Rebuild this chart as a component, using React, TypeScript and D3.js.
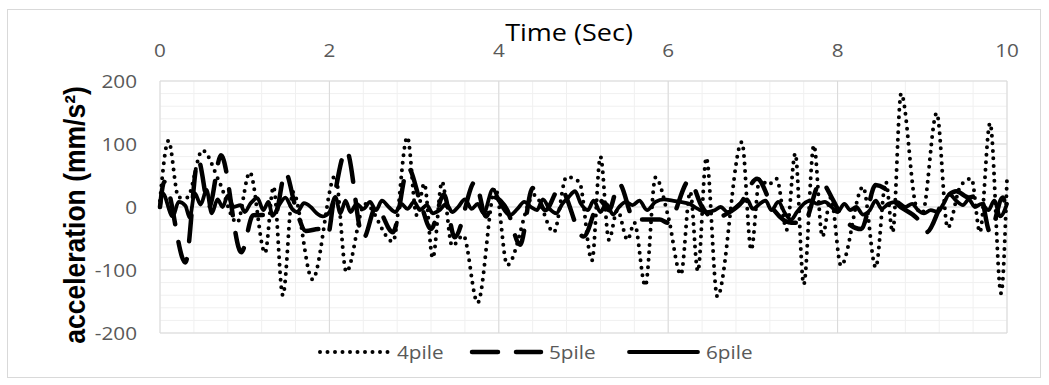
import React from "react";
import * as d3 from "d3";

// time (s) / acceleration (mm/s²)
const t4 = [0, 0.1, 0.22, 0.32, 0.5, 0.7, 0.91, 1.06, 1.24, 1.34, 1.45, 1.57, 1.8, 2.07, 2.2, 2.42, 2.75, 2.92, 3.03, 3.12, 3.22, 3.33, 3.45, 3.58, 3.75, 3.96, 4.1, 4.42, 4.65, 4.8, 4.95, 5.1, 5.2, 5.3, 5.4, 5.52, 5.6, 5.73, 5.85, 6.0, 6.15, 6.26, 6.35, 6.45, 6.58, 6.87, 6.98, 7.08, 7.18, 7.28, 7.4, 7.5, 7.6, 7.72, 7.82, 7.92, 8.04, 8.3, 8.45, 8.57, 8.65, 8.75, 8.93, 9.0, 9.17, 9.3, 9.45, 9.58, 9.68, 9.8, 9.93, 10];
const v4 = [10, 105, 15, 15, 90, 40, -25, 55, -73, 32, -140, 24, -115, 50, -103, 5, -55, 111, -13, 37, -81, 40, -62, -45, -152, 30, -92, 19, -40, 48, 40, -85, 80, -52, -5, -52, -25, -125, 47, -15, -107, 24, -102, 78, -142, 103, -68, 45, 35, 45, -36, 85, -123, 98, -47, 15, -93, 32, -96, 40, -40, 180, 0, -10, 149, -33, 33, 45, -40, 133, -137, 45];

const t5 = [0, 0.05, 0.3, 0.45, 0.58, 0.72, 0.96, 1.1, 1.36, 1.48, 1.6, 1.72, 1.88, 1.98, 2.05, 2.2, 2.4, 2.55, 2.75, 2.93, 3.08, 3.2, 3.35, 3.48, 3.72, 3.85, 3.95, 4.1, 4.25, 4.4, 4.55, 4.72, 5.0, 5.2, 5.3, 5.42, 5.6, 5.9, 6.0, 6.25, 6.4, 6.55, 6.7, 6.85, 7.05, 7.25, 7.45, 7.6, 7.8, 7.95, 8.05, 8.28, 8.45, 8.55, 8.7, 8.95, 9.05, 9.25, 9.4, 9.55, 9.68, 9.8, 9.95, 10];
const v5 = [0, 40, -88, 75, 0, 82, -72, -13, -12, 55, 0, -38, -35, -45, 10, 90, -50, 0, -40, 62, 5, -35, 20, -48, 40, -15, 15, -5, -60, 30, -5, 30, -47, 10, -5, 37, -20, -20, -25, 42, 0, -18, -10, 5, 45, -5, -25, -25, 40, 10, -15, -35, 35, 30, 5, -20, -40, 10, 25, 15, 20, -40, 15, -15];

const t6 = [0, 0.03, 0.15, 0.22, 0.3, 0.35, 0.41, 0.48, 0.55, 0.61, 0.68, 0.74, 0.8, 0.87, 0.95, 1.0, 1.07, 1.15, 1.22, 1.28, 1.33, 1.4, 1.48, 1.56, 1.62, 1.7, 1.78, 1.85, 1.92, 2.0, 2.07, 2.13, 2.19, 2.25, 2.32, 2.4, 2.48, 2.55, 2.62, 2.7, 2.78, 2.85, 2.92, 3.0, 3.07, 3.15, 3.22, 3.3, 3.38, 3.45, 3.52, 3.6, 3.68, 3.75, 3.82, 3.93, 4.02, 4.13, 4.22, 4.3, 4.38, 4.45, 4.52, 4.6, 4.68, 4.75, 4.82, 4.9, 4.97, 5.05, 5.12, 5.2, 5.27, 5.35, 5.42, 5.5, 5.58, 5.66, 5.75, 5.85, 5.95, 6.05, 6.15, 6.25, 6.35, 6.45, 6.55, 6.62, 6.7, 6.78, 6.85, 6.93, 7.0, 7.08, 7.15, 7.22, 7.3, 7.38, 7.45, 7.52, 7.6, 7.68, 7.76, 7.85, 7.93, 8.0, 8.08, 8.15, 8.22, 8.3, 8.38, 8.45, 8.52, 8.6, 8.7, 8.8, 8.88, 8.95, 9.02, 9.1, 9.18, 9.25, 9.32, 9.4, 9.48, 9.55, 9.62, 9.7, 9.78, 9.85, 9.92, 10];
const v6 = [0, 22, -15, 8, 2, -17, 22, 4, 27, -10, 12, 0, 18, 0, 3, -8, 6, 14, -5, 8, -14, 2, 15, -3, -8, 6, 0, -10, -15, -8, 16, -10, 10, -8, 5, -3, 8, -5, 10, 0, -8, 5, -3, 8, -5, 3, -10, -5, 5, -8, 0, 12, -3, 5, -10, 28, 5, -13, -3, 8, 0, -5, 12, -3, -10, 5, 15, 25, 5, -5, 10, -8, 5, -12, 0, 8, 3, 10, -5, 8, 12, 10, 8, 5, -3, -8, -5, 0, -8, -3, 5, 12, -3, 5, 10, -5, 8, -10, -20, -8, 5, 10, 5, 8, 0, -8, 5, -5, 0, -12, -5, 10, -3, 5, 8, 0, 5, -5, -10, -5, -8, 5, 20, 10, 3, 12, 0, 5, -5, 10, -15, 5];

const xTicks = [0, 2, 4, 6, 8, 10];
const yTicks = [-200, -100, 0, 100, 200];
const seriesNames = ["4pile", "5pile", "6pile"];

const FONT = "'Open Sans', 'Liberation Sans', sans-serif";

// sx stretches along the text, sy across it (the reference text is a bit wide)
function Label(props: {
  x: number;
  y: number;
  text: string;
  anchor?: string;
  size?: number;
  fill?: string;
  weight?: string | number;
  rotate?: boolean;
  family?: string;
  sx?: number;
  sy?: number;
  baseline?: string;
}) {
  const {
    x, y, text, anchor = "start", size = 18, fill = "#595959", weight = 400,
    rotate = false, family = FONT, sx = 1.15, sy = 1, baseline = "central",
  } = props;
  const tf = `translate(${x},${y})${rotate ? " rotate(-90)" : ""} scale(${sx},${sy})`;
  return (
    <text
      transform={tf}
      textAnchor={anchor}
      dominantBaseline={baseline}
      fontFamily={family}
      fontSize={size}
      fontWeight={weight}
      fill={fill}
    >
      {text}
    </text>
  );
}

const styles = [
  { width: 4, dash: "0 7.5", cap: "round" },
  { width: 4.5, dash: "26 18", cap: "round" },
  { width: 3.8, dash: "none", cap: "round" },
];

export default function App() {
  const x = d3.scaleLinear().domain([0, 10]).range([160, 1007]);
  const y = d3.scaleLinear().domain([-200, 200]).range([333, 81]);

  const line = d3
    .line<[number, number]>()
    .x((d) => x(d[0]))
    .y((d) => y(d[1]))
    .curve(d3.curveMonotoneX);

  const series: [number, number][][] = [
    t4.map((t, i) => [t, v4[i]] as [number, number]),
    t5.map((t, i) => [t, v5[i]] as [number, number]),
    t6.map((t, i) => [t, v6[i]] as [number, number]),
  ];

  const minorX = d3.range(0, 10.001, 0.4);
  const minorY = d3.range(-200, 201, 20);

  const legendX = [320, 472, 629];

  return (
    <svg
      width={1049}
      height={385}
      style={{ position: "absolute", left: 0, top: 0, background: "white" }}
    >
      <rect x={7.5} y={9.5} width={1033} height={368} fill="white" stroke="#d9d9d9" />

      <g>
        {minorY.map((v) => (
          <line key={"my" + v} x1={x(0)} x2={x(10)} y1={y(v)} y2={y(v)} stroke="#f0f0f0" strokeWidth={1} />
        ))}
        {minorX.map((v) => (
          <line key={"mx" + v} x1={x(v)} x2={x(v)} y1={y(-200)} y2={y(200)} stroke="#f0f0f0" strokeWidth={1} />
        ))}
        {yTicks.map((v) => (
          <line key={"gy" + v} x1={x(0)} x2={x(10)} y1={y(v)} y2={y(v)} stroke="#d9d9d9" strokeWidth={1} />
        ))}
        {xTicks.map((v) => (
          <line key={"gx" + v} x1={x(v)} x2={x(v)} y1={y(-200)} y2={y(200)} stroke="#d9d9d9" strokeWidth={1} />
        ))}
      </g>

      {series.map((s, i) => (
        <path
          key={seriesNames[i]}
          d={line(s) || ""}
          fill="none"
          stroke="#000"
          strokeWidth={styles[i].width}
          strokeDasharray={styles[i].dash}
          strokeLinecap={styles[i].cap as any}
          strokeLinejoin="round"
        />
      ))}

      {yTicks.map((v) => (
        <Label key={"yl" + v} x={137} y={y(v)} text={String(v)} anchor="end" />
      ))}
      {xTicks.map((v) => (
        <Label key={"xl" + v} x={x(v)} y={50} text={String(v)} anchor="middle" />
      ))}

      <Label x={569} y={32} text="Time (Sec)" anchor="middle" size={23.5} fill="#000" />
      <Label
        x={85}
        y={215}
        text="acceleration (mm/s²)"
        anchor="middle"
        size={26.5}
        fill="#000"
        weight={700}
        rotate
        baseline="auto"
        family="'Liberation Sans', Arial, sans-serif"
        sx={1}
        sy={1.1}
      />

      {seriesNames.map((name, i) => (
        <g key={"lg" + name}>
          <line
            x1={legendX[i]}
            x2={legendX[i] + 69}
            y1={352}
            y2={352}
            stroke="#000"
            strokeWidth={styles[i].width}
            strokeDasharray={styles[i].dash}
            strokeLinecap={styles[i].cap as any}
          />
          <Label x={legendX[i] + 77} y={352} text={name} />
        </g>
      ))}
    </svg>
  );
}
